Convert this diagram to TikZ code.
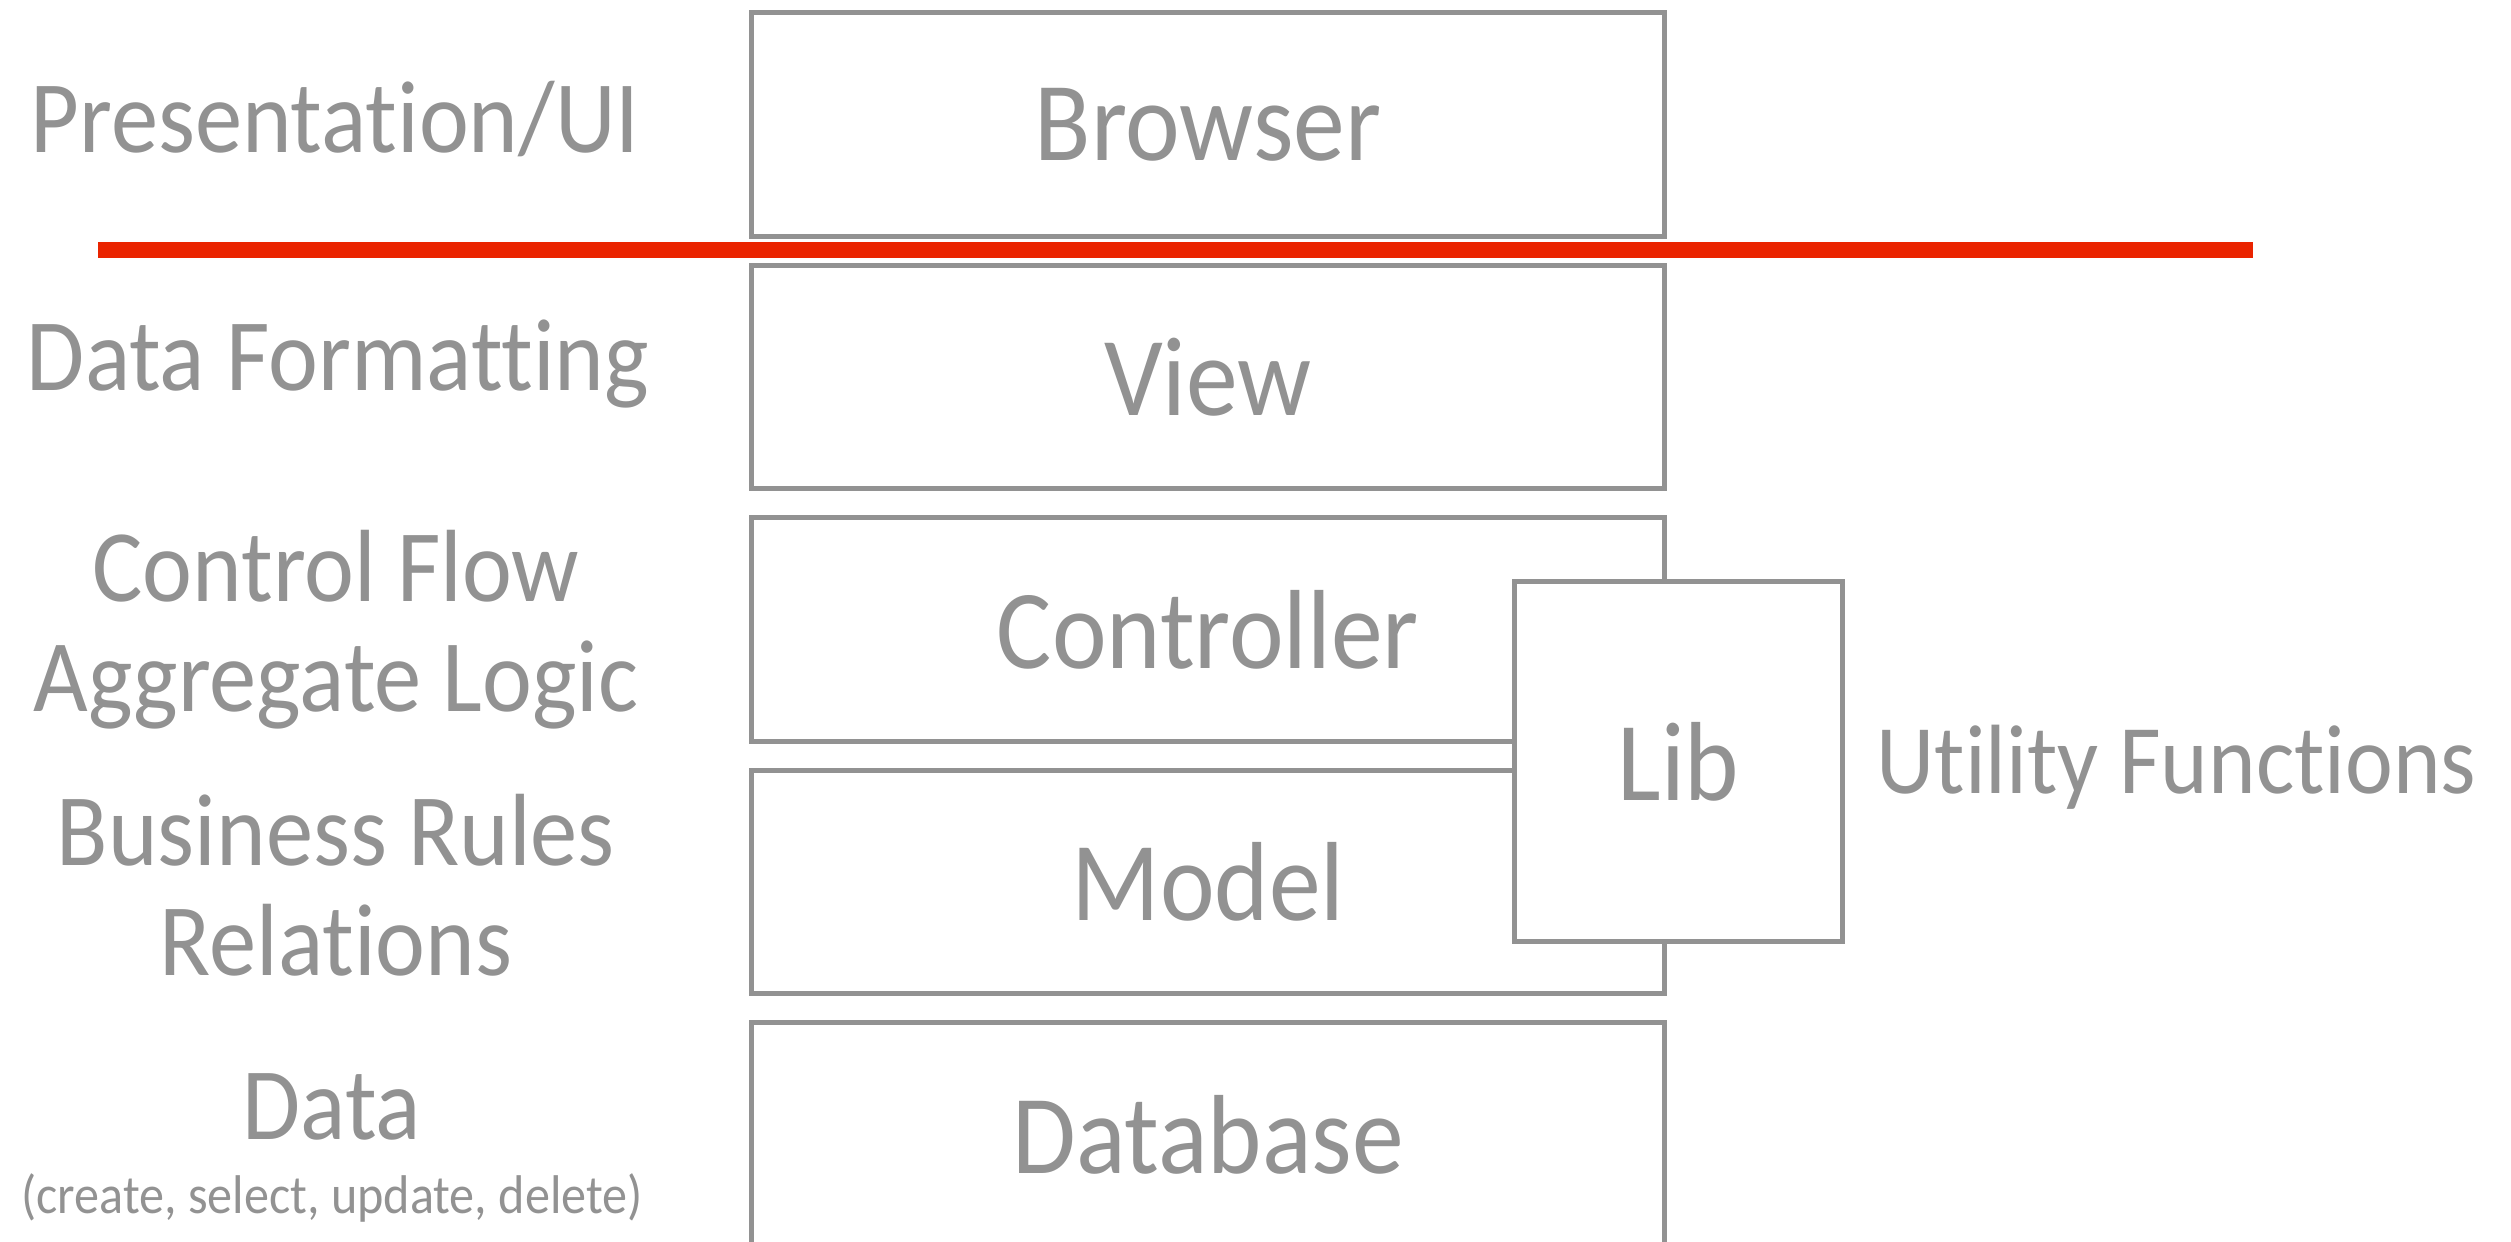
\documentclass[tikz,border=0pt]{standalone}
\usepackage{fontspec}
\setmainfont{Carlito}[FakeStretch=0.92, Ligatures=NoCommon]
\definecolor{mvcgray}{RGB}{146,146,146}
\definecolor{mvcred}{RGB}{234,36,0}

\begin{document}
\begin{tikzpicture}[x=0.01cm, y=-0.01cm,
	layer/.style={draw=mvcgray, line width=1.42pt, fill=white, inner sep=0pt,
		minimum width=9.12cm, minimum height=2.23cm, text=mvcgray,
		font=\fontsize{32}{36}\selectfont},
	tag/.style={text=mvcgray, inner sep=0pt, align=center,
		font=\fontsize{29.2}{31}\selectfont}]
	\useasboundingbox (0,0) rectangle (2511,1242);

	% Layers (top to bottom)
	\foreach \name/\txt/\i in {browser/Browser/0, view/View/1, ctrl/Controller/2, model/Model/3, db/Database/4} {
		\node[layer] (\name) at (1208, 124.5+252.5*\i) {\txt};
	}

	% Client / server split
	\draw[mvcred, line width=4.5pt] (98,250) -- (2253,250);

	% Lib sits over controller and model
	\node[layer, minimum width=3.27cm, minimum height=3.6cm] (lib) at (1678.5,761.5) {Lib};
	\node[tag, anchor=base west, font=\fontsize{28}{31}\selectfont] (util) at (1876,793) {Utility Functions};

	% What each layer does (base = last line)
	\node[tag, anchor=base] (ui) at (335,152) {Presentation/UI};
	\node[tag, anchor=base] (fmt) at (338,390) {Data Formatting};
	\node[tag, anchor=base] (flow) at (336,711) {Control Flow\\Aggregate Logic};
	\node[tag, anchor=base] (rules) at (336,975) {Business Rules\\Relations};
	\node[tag, anchor=base, font=\fontsize{29.2}{21}\selectfont] (data) at (332,1213)
		{Data\\{\fontsize{15.5}{21}\selectfont (create, select, update, delete)}};
\end{tikzpicture}
\end{document}
